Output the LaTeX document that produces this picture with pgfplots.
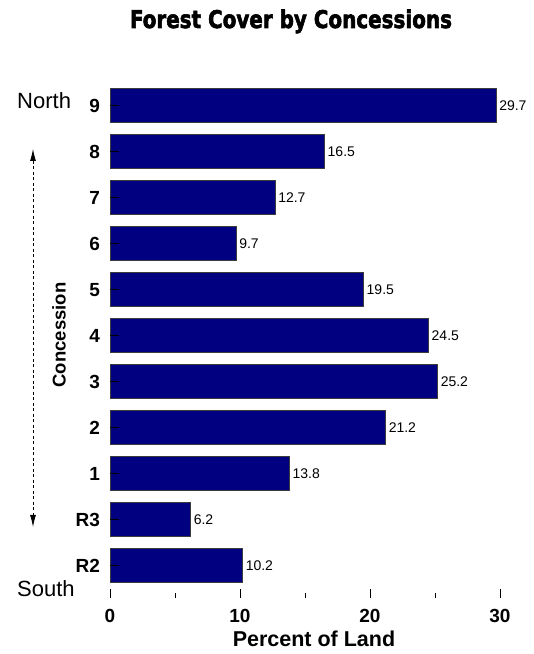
\documentclass[border=0pt]{standalone}
\usepackage{pgfplots}
\pgfplotsset{compat=1.18}
\usepackage{fontspec}
\setmainfont{Liberation Sans}
\newfontfamily\titlefont[FakeBold=2.5]{DejaVu Sans Condensed Bold}
\usetikzlibrary{arrows.meta}
\definecolor{barnavy}{RGB}{0,0,128}
\definecolor{baredge}{RGB}{60,60,60}
\begin{document}
\begin{tikzpicture}
\useasboundingbox (0,0) rectangle (534pt,654pt);
% title
\node[anchor=base, inner sep=0pt] at (291pt,626pt)
  {\resizebox{322pt}{18.5pt}{\titlefont Forest Cover by Concessions}};
\begin{axis}[
  at={(110pt,56pt)}, anchor=south west,
  scale only axis, width=416pt, height=512.9pt,
  xmin=0, xmax=32, ymin=-0.7, ymax=10.45,
  xbar, bar width=34pt,
  axis line style={draw=none},
  axis on top,
  tick align=inside,
  xtick pos=bottom, ytick pos=left,
  xtick={0,10,20,30}, minor xtick={5,15,25},
  major tick length=9pt, minor tick length=5pt,
  tick style={black, line width=0.6pt},
  ytick={0,...,10},
  yticklabels={R2,R3,1,2,3,4,5,6,7,8,9},
  /pgf/number format/assume math mode=true,
  ticklabel style={font=\bfseries\fontsize{19}{19}\selectfont},
  xticklabel style={yshift=-8pt},
  yticklabel style={xshift=-6.5pt},
  nodes near coords,
  every node near coord/.append style={font=\fontsize{14}{14}\selectfont, anchor=west, xshift=-0.5pt, black},
]
\addplot[fill=barnavy, draw=baredge, line width=0.7pt] coordinates {
  (10.2,0) (6.2,1) (13.8,2) (21.2,3) (25.2,4) (24.5,5)
  (19.5,6) (9.7,7) (12.7,8) (16.5,9) (29.7,10)
};
\end{axis}
% axis titles
\node[anchor=base, font=\bfseries\fontsize{21.5}{21.5}\selectfont] at (314pt,7pt) {Percent of Land};
\node[rotate=90, font=\bfseries\fontsize{18.5}{18.5}\selectfont] at (59pt,319pt) {Concession};
% orientation labels
\node[anchor=base west, inner sep=0pt, font=\fontsize{22}{22}\selectfont] at (17pt,545pt) {North};
\node[anchor=base west, inner sep=0pt, font=\fontsize{22}{22}\selectfont] at (17pt,57pt) {South};
\draw[dash pattern=on 3pt off 2.5pt, line width=0.8pt,
  {Latex[length=12pt,width=6pt]}-{Latex[length=12pt,width=6pt]}]
  (33pt,505pt) -- (33pt,127pt);
\end{tikzpicture}
\end{document}
